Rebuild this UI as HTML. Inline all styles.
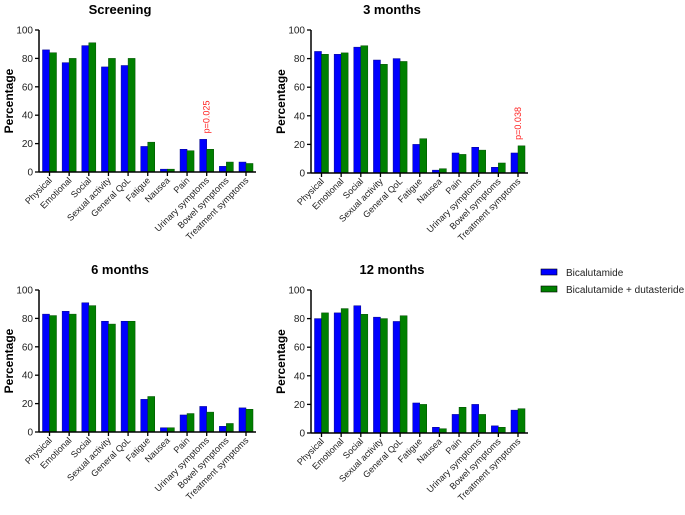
<!DOCTYPE html>
<html><head><meta charset="utf-8"><style>
body{margin:0;background:#fff;}
svg{display:block;font-family:"Liberation Sans",Arial,sans-serif;}
</style></head><body>
<svg id="c" width="685" height="515">
<g>
 <rect x="541" y="269" width="16" height="6" fill="#0000ff" stroke="#000" stroke-width="0.6"/>
 <text x="566" y="276" font-size="10" fill="#222">Bicalutamide</text>
 <rect x="541" y="286" width="16" height="6" fill="#008000" stroke="#000" stroke-width="0.6"/>
 <text x="566" y="293" font-size="10" fill="#222">Bicalutamide + dutasteride</text>
</g>
</svg>
<script>
const categories=["Physical","Emotional","Social","Sexual activity","General QoL","Fatigue","Nausea","Pain","Urinary symptoms","Bowel symptoms","Treatment symptoms"];
const titles=["Screening","3 months","6 months","12 months"];
const yTicks=[0,20,40,60,80,100];
const bicaScreen=[86,77,89,74,75,18,2,16,23,4,7];
const dutaScreen=[84,80,91,80,80,21,2,15,16,7,6];
const bica3m=[85,83,88,79,80,20,2,14,18,4,14];
const duta3m=[83,84,89,76,78,24,3,13,16,7,19];
const bica6m=[83,85,91,78,78,23,3,12,18,4,17];
const duta6m=[82,83,89,76,78,25,3,13,14,6,16];
const bica12m=[80,84,89,81,78,21,4,13,20,5,16];
const duta12m=[84,87,83,80,82,20,3,18,13,4,17];
const pLabels=[{i:8,t:"p=0.025"},{i:10,t:"p=0.038"},null,null];
const seriesB=[bicaScreen,bica3m,bica6m,bica12m];
const seriesD=[dutaScreen,duta3m,duta6m,duta12m];
const panels=[{ax:39,top:30,zero:172},{ax:311,top:30,zero:173},{ax:39,top:290,zero:432},{ax:311,top:290,zero:433}];
const svg=document.getElementById('c');
const NS='http://www.w3.org/2000/svg';
function mk(tag,at,parent){const e=document.createElementNS(NS,tag);for(const k in at)e.setAttribute(k,at[k]);parent.appendChild(e);return e;}
panels.forEach((p,pi)=>{
 const g=mk('g',{},svg);
 
 
 const step=19.65, x0=p.ax+10.5;
 const xs=i=>x0+i*step;
 const ys=v=>p.zero-(v/100)*(p.zero-p.top);
 const t=mk('text',{x:p.ax+81,y:p.top-16,'font-size':13,'font-weight':'bold','text-anchor':'middle'},g);
 t.textContent=titles[pi];
 
 
 const yl=mk('text',{x:0,y:0,'font-size':12,'font-weight':'bold','text-anchor':'middle',transform:`translate(${p.ax-26},${(p.top+p.zero)/2}) rotate(-90)`},g);
 yl.textContent='Percentage';
 
 
 categories.forEach((c,i)=>{
  const b=seriesB[pi][i], d=seriesD[pi][i], cx=xs(i);
  const rb=mk('rect',{x:cx-7,y:ys(b),width:7,height:p.zero-ys(b),fill:'#0000ff',stroke:'#00008a','stroke-width':0.5},g);
  
  
  const rd=mk('rect',{x:cx,y:ys(d),width:7,height:p.zero-ys(d),fill:'#008000',stroke:'#004d00','stroke-width':0.5},g);
  
  
  mk('line',{x1:cx,x2:cx,y1:p.zero,y2:p.zero+4,stroke:'#000','stroke-width':1.3},g);
  const lt=mk('text',{x:0,y:0,'font-size':9,fill:'#222','text-anchor':'end',transform:`translate(${cx+3},${p.zero+9}) rotate(-45)`},g);
  lt.textContent=c;
  
  
 });
 yTicks.forEach(v=>{
  mk('line',{x1:p.ax-4,x2:p.ax,y1:ys(v),y2:ys(v),stroke:'#000','stroke-width':1.3},g);
  const tt=mk('text',{x:p.ax-6,y:ys(v)+3.5,'font-size':10,fill:'#222','text-anchor':'end'},g);
  tt.textContent=v;
  
  
 });
 mk('line',{x1:p.ax,x2:p.ax,y1:p.top,y2:p.zero,stroke:'#000','stroke-width':1.5},g);
 mk('line',{x1:p.ax,x2:xs(10)+10,y1:p.zero,y2:p.zero,stroke:'#000','stroke-width':1.5},g);
 const pl=pLabels[pi];
 if(pl){
  const top=Math.max(seriesB[pi][pl.i],seriesD[pi][pl.i]);
  const pt=mk('text',{x:0,y:0,'font-size':9,fill:'#ff2020',transform:`translate(${xs(pl.i)+3},${ys(top)-6}) rotate(-90)`},g);
  pt.textContent=pl.t;
  
  
 }
});
</script>
</body></html>
